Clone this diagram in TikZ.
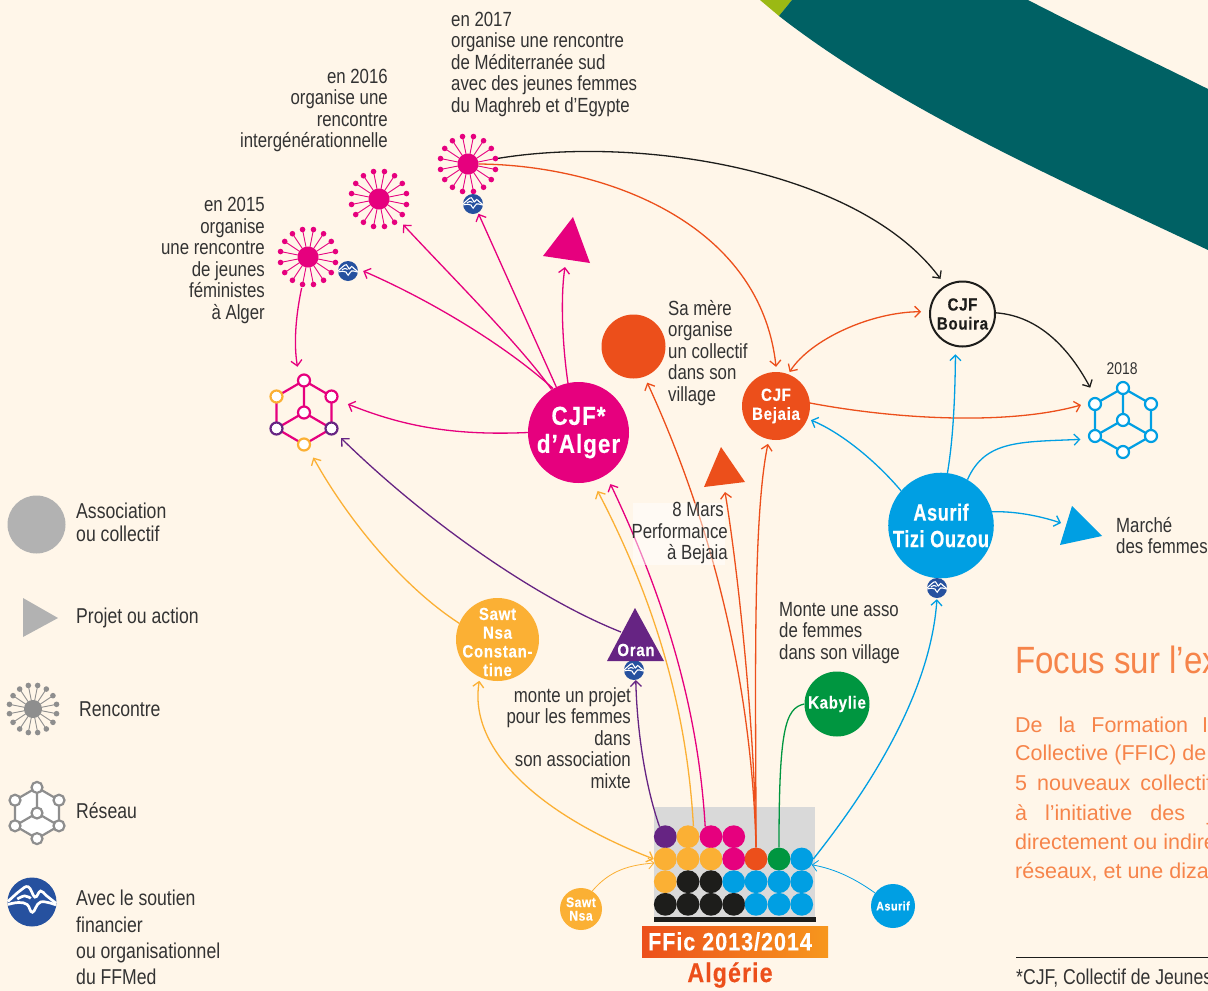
\documentclass[tikz,border=0pt]{standalone}
\usepackage{fontspec}
\usetikzlibrary{arrows.meta}
\setmainfont{Liberation Sans}
\newfontfamily\condfont[FakeStretch=0.82]{Liberation Sans}
\newfontfamily\condbold[FakeStretch=0.78,LetterSpace=2,FakeBold=0.3]{Liberation Sans Bold}
\newfontfamily\widebold[FakeStretch=0.86,LetterSpace=4,FakeBold=0.3]{Liberation Sans Bold}
\newfontfamily\focusfont[FakeStretch=0.87]{Liberation Sans}
\definecolor{paper}{HTML}{FFF6E9}
\definecolor{teal}{HTML}{006164}
\definecolor{lime}{HTML}{9BB914}
\definecolor{mypink}{HTML}{E6007E}
\definecolor{myorange}{HTML}{FBB034}
\definecolor{myred}{HTML}{EC4F1B}
\definecolor{mypurple}{HTML}{662483}
\definecolor{myblue}{HTML}{009FE3}
\definecolor{mygreen}{HTML}{009640}
\definecolor{myblack}{HTML}{1D1D1B}
\definecolor{badgeblue}{HTML}{26519F}
\definecolor{legendgrey}{HTML}{B2B2B2}
\definecolor{icongrey}{HTML}{8E8E8E}
\definecolor{focusorange}{HTML}{F6844A}
\definecolor{bannerend}{HTML}{F7971D}
\tikzset{
  >={Straight Barb[length=5.5pt,width=11pt]},
  conn/.style={line width=1.3pt},
  thinconn/.style={line width=0.8pt},
  lbl/.style={font=\condfont\fontsize{20.5}{21.5}\selectfont,text=black!80,inner sep=0pt},
  lblr/.style={lbl,align=right,anchor=north east},
  lbll/.style={lbl,align=left,anchor=north west},
  legtxt/.style={lbl,align=left,anchor=west,font=\condfont\fontsize{21.5}{23}\selectfont},
  orgnode/.style={circle,inner sep=0pt,text=white,align=center,font=\widebold\fontsize{17.5}{19}\selectfont},
  cell/.style={circle,inner sep=0pt,minimum size=22.8pt},
  netdot/.style={circle,draw,line width=2.2pt,fill=white,inner sep=0pt,minimum size=12pt},
  hidden/.style={circle,inner sep=0pt,minimum size=84pt},
  focus/.style={font=\fontsize{21.5}{22}\selectfont,text=focusorange,inner sep=0pt,anchor=base west},
}
% Rencontre icon: name, position, colour, disc radius, ray length
\newcommand{\Rencontre}[5]{
  \node[circle,fill=#3,inner sep=0pt,minimum size=#4*2pt] (#1) at (#2) {};
  \foreach \a in {11.25,33.75,...,348.75}{
    \draw[#3,line width=0.9pt] (#1.center) -- ++(\a:#5);
    \fill[#3] (#1.center) ++(\a:#5) circle (2.8pt);
  }
}
% FFMed badge: name, position, radius
\newcommand{\Badge}[3]{
  \node[circle,fill=badgeblue,inner sep=0pt,minimum size=#3*2pt] (#1) at (#2) {};
  \begin{scope}[shift={(#1.center)},x=#3pt,y=#3pt,line width=#3*0.11pt,white]
    \draw plot[smooth,tension=0.7] coordinates {(-0.98,0.02) (-0.5,0.45) (-0.15,0.62) (0.12,0.2) (0.35,0.45) (0.6,0.25) (0.98,-0.05)};
    \draw plot[smooth,tension=0.7] coordinates {(-0.98,-0.1) (-0.55,-0.02) (-0.2,-0.1) (0.02,-0.42) (0.35,0) (0.98,-0.12)};
    \draw plot[smooth,tension=0.7] coordinates {(-0.6,0.12) (-0.3,0.25) (-0.05,0.15)};
  \end{scope}
}
% Reseau icon: prefix, x, y, half width, half height step, line colour, fill
\newcommand{\Reseau}[7]{
  \coordinate (#1c) at (#2,#3);
  \coordinate (#1t) at (#2,#3-#5*2);
  \coordinate (#1b) at (#2,#3+#5*2);
  \coordinate (#1ur) at (#2+#4,#3-#5);
  \coordinate (#1lr) at (#2+#4,#3+#5);
  \coordinate (#1ul) at (#2-#4,#3-#5);
  \coordinate (#1ll) at (#2-#4,#3+#5);
  \draw[#6,line width=2.2pt,fill=#7] (#1t) -- (#1ur) -- (#1lr) -- (#1b) -- (#1ll) -- (#1ul) -- cycle;
  \draw[#6,line width=2.2pt] (#1c) -- (#1t) (#1c) -- (#1lr) (#1c) -- (#1ll);
}
\begin{document}
\begin{tikzpicture}[x=1pt,y=-1pt]
\useasboundingbox (0,0) rectangle (1208,991);
\fill[paper] (0,0) rectangle (1208,991);

% Band in the corner
\fill[lime] (760,0) -- (792,0) -- (779,16) -- cycle;
\fill[teal] (792,0) -- (1028,0) .. controls (1090,32) and (1150,60) .. (1208,89) -- (1208,250)
  .. controls (1060,180) and (900,110) .. (779,16) -- cycle;

% Legend
\node[circle,fill=legendgrey,minimum size=58pt,inner sep=0pt] (legassoc) at (36.5,524.5) {};
\node[legtxt] (legassoctxt) at (76,522.5) {Association\\ou collectif};
\fill[legendgrey] (23,598) -- (23,637) -- (58,618) -- cycle;
\node[legtxt] (legprojet) at (76,618) {Projet ou action};
\Rencontre{legrenc}{33,709}{icongrey}{9}{24}
\node[legtxt] (legrenctxt) at (79,709) {Rencontre};
\Reseau{leg}{37}{813}{22}{12.8}{icongrey}{white}
\foreach \p in {c,t,b,ur,lr,ul,ll}
  \node[netdot,draw=icongrey,minimum size=11pt] (leg\p n) at (leg\p) {};
\node[legtxt] (legreseau) at (76,811) {Réseau};
\Badge{legbadge}{32,902}{24.5}
\node[legtxt,anchor=north west,font=\condfont\fontsize{21.5}{26.4}\selectfont] (legbadgetxt) at (76,890) {Avec le soutien\\financier\\ou organisationnel\\du FFMed};

% Rencontres
\Rencontre{renca}{308,257}{mypink}{10.5}{28}
\Rencontre{rencb}{379,199}{mypink}{10.5}{28}
\Rencontre{rencc}{468,164}{mypink}{10.5}{28}
\Badge{badgea}{348,271}{10}
\Badge{badgec}{473,204}{10}

% Reseaux
\node[hidden] (netalger) at (304,412.5) {};
\Reseau{n}{304}{412.5}{27.5}{16}{mypink}{paper}
\foreach \p/\c in {c/mypink,t/mypink,ur/mypink,ul/myorange,b/myorange,ll/mypurple,lr/mypurple}
  \node[netdot,draw=\c] (n\p n) at (n\p) {};
\node[hidden] (netasurif) at (1123,420) {};
\Reseau{m}{1123}{420}{28}{16}{myblue}{paper}
\foreach \p in {c,t,b,ur,lr,ul,ll}
  \node[netdot,draw=myblue] (m\p n) at (m\p) {};
\node[lbl,font=\condfont\fontsize{17}{18}\selectfont] (an2018) at (1122,369) {2018};

% Associations
\node[orgnode,fill=mypink,minimum size=101pt,font=\widebold\fontsize{26}{28}\selectfont] (alger) at (578.5,432.5) {CJF*\\d’Alger};
\node[orgnode,fill=myorange,minimum size=83pt] (sawtc) at (497.5,639.5) {};
\node[orgnode,circle,inner sep=0pt,font=\widebold\fontsize{17.5}{18.7}\selectfont] (sawtctxt) at (497.5,642) {Sawt\\Nsa\\Constan-\\tine};
\node[orgnode,fill=myred,minimum size=64pt] (mere) at (633.5,346.5) {};
\node[orgnode,fill=myred,minimum size=68pt] (bejaia) at (776,406) {CJF\\Bejaia};
\node[orgnode,draw=myblack,line width=2pt,text=myblack,minimum size=65pt] (bouira) at (962.5,314) {CJF\\Bouira};
\node[orgnode,fill=myblue,minimum size=104pt,font=\condbold\fontsize{23.5}{26.5}\selectfont] (asurif) at (941,525.5) {Asurif\\Tizi Ouzou};
\node[orgnode,fill=mygreen,minimum size=65pt] (kabylie) at (837,704) {Kabylie};
\node[orgnode,fill=myblue,minimum size=44pt,font=\widebold\fontsize{12.5}{14}\selectfont] (asurifb) at (893,906) {Asurif};
\node[orgnode,fill=myorange,minimum size=42pt,font=\widebold\fontsize{14}{13.5}\selectfont] (sawtb) at (581,909) {Sawt\\Nsa};
\Badge{badgeo}{634,670}{10}
\Badge{badgeb}{937,588}{10}

% Projets
\fill[mypink] (573,217) -- (543,256) -- (590,263) -- cycle;
\fill[myred] (721,447) -- (704,487) -- (745,482) -- cycle;
\fill[myblue] (1072,506) -- (1060,545) -- (1102,536) -- cycle;
\fill[mypurple] (635,608) -- (607,661) -- (664,661) -- cycle;
\node[orgnode] (oran) at (636,650) {Oran};
\coordinate (tripink) at (565,267);
\coordinate (trired) at (725,492);
\coordinate (triblue) at (1061,523);
\coordinate (oranw) at (621,632);

% FFic 2013/2014 grid
\fill[black!15] (654,807) rectangle (815,917);
\fill[myblack] (654,917) rectangle (816,922);
\foreach \c/\x in {1/665.3,2/688,3/711,4/733.7,5/756,6/779,7/801.7}
  \foreach \r/\y in {1/836.7,2/859,3/881.7,4/904.3}
    \coordinate (p\r\c) at (\x,\y);
\foreach \n/\col in {11/mypurple,12/myorange,13/mypink,14/mypink,
    21/myorange,22/myorange,23/myorange,24/mypink,25/myred,26/mygreen,27/myblue,
    31/myorange,32/myblack,33/myblack,34/myblue,35/myblue,36/myblue,37/myblue,
    41/myblack,42/myblack,43/myblack,44/myblack,45/myblue,46/myblue,47/myblue}
  \node[cell,fill=\col] (g\n) at (p\n) {};
\node[inner sep=0pt,minimum width=186pt,minimum height=31pt,left color=myred,right color=bannerend,text=white,font=\widebold\fontsize{25}{28}\selectfont] (ffic) at (735,941.5) {\hspace*{-10pt}FFic 2013/2014};
\node[inner sep=0pt,text=myred,font=\widebold\fontsize{27}{28}\selectfont] (algerie) at (730,975) {Algérie};

% Connectors, pink
\draw[->,conn,mypink] (alger.120) .. controls (505,345) and (430,300) .. ([xshift=5pt]badgea.east);
\draw[->,conn,mypink,shorten >=24.5pt] (alger.122) .. controls (520,345) and (450,275) .. (rencb.-46) ;
\draw[->,conn,mypink,shorten >=1pt] (alger.116) -- (badgec.-60);
\draw[->,conn,mypink] (alger.102) .. controls (563,350) and (560,300) .. (tripink);
\draw[->,conn,mypink,shorten >=3pt] (alger.west) .. controls (450,436) and (400,425) .. (netalger.13);
\draw[->,conn,mypink,shorten <=21pt,shorten >=4pt] (renca.-101) .. controls (297,310) and (293,340) .. (netalger.98);
\draw[->,conn,mypink,shorten >=10pt] (g13.120) .. controls (700,740) and (680,630) .. (alger.-57);

% Connectors, orange
\draw[->,conn,myorange,shorten >=11pt] (g12.62) .. controls (688,730) and (665,620) .. (alger.-74);
\draw[->,conn,myorange,shorten >=4pt] (sawtc.157) .. controls (400,585) and (345,515) .. (netalger.-80);
\draw[<->,conn,myorange,shorten <=3.5pt] (sawtc.-115) .. controls (468,750) and (540,815) .. (g21.west);
\draw[->,thinconn,myorange] (sawtb.58) .. controls (610,870) and (630,865) .. (g21.200);

% Connectors, purple
\draw[->,conn,mypurple,shorten >=3pt] (oranw) .. controls (540,600) and (430,525) .. (netalger.-34);
\draw[->,conn,mypurple] (g11.120) .. controls (645,785) and (637,730) .. (badgeo.-80);

% Connectors, red
\draw[->,conn,myred,shorten >=5pt] (rencc.east) .. controls (600,165) and (760,220) .. (bejaia.89);
\draw[<->,conn,myred,shorten >=8pt,shorten <=2.5pt] (bejaia.69) .. controls (810,340) and (870,312) .. (bouira.176);
\draw[->,conn,myred,shorten >=3pt] (bejaia.5) .. controls (900,420) and (1010,425) .. (netasurif.158);
\draw[->,conn,myred,shorten >=4.5pt] (g25.north) .. controls (756,700) and (752,520) .. (bejaia.-102);
\draw[->,conn,myred] (g25.north) .. controls (755,730) and (738,570) .. (trired);
\draw[->,conn,myred,shorten >=6.5pt] (g25.north) .. controls (752,690) and (715,530) .. (mere.-70);

% Connectors, blue
\draw[->,conn,myblue,shorten >=3.5pt] (asurif.139) .. controls (875,460) and (840,432) .. (bejaia.-22);
\draw[->,conn,myblue,shorten >=7.5pt] (asurif.83) .. controls (953,440) and (955,400) .. (bouira.-102);
\draw[->,conn,myblue,shorten >=5pt] (asurif.60) .. controls (985,440) and (1020,442) .. (netasurif.-153);
\draw[->,conn,myblue] (asurif.15) .. controls (1015,511) and (1040,516) .. (triblue);
\draw[->,conn,myblue,shorten >=1pt] (g27.east) .. controls (860,800) and (930,700) .. (badgeb.south);
\draw[->,thinconn,myblue] (asurifb.144) .. controls (850,875) and (830,868) .. (g27.-30);

% Connectors, green and black
\draw[conn,mygreen] (g26.north) .. controls (779,730) and (785,708) .. (kabylie.west);
\draw[->,conn,myblack,shorten <=20pt,shorten >=8pt] (rencc.13) .. controls (640,135) and (860,170) .. (bouira.121);
\draw[->,conn,myblack,shorten >=4pt] (bouira.2) .. controls (1040,316) and (1070,350) .. (netasurif.137);

% Labels
\node[lbll] (txta) at (451,11.5) {en 2017\\organise une rencontre\\de Méditerranée sud\\avec des jeunes femmes\\du Maghreb et d’Egypte};
\node[lblr] (txtb) at (388,68.5) {en 2016\\organise une\\rencontre\\intergénérationnelle};
\node[lblr] (txtc) at (265,197) {en 2015\\organise\\une rencontre\\de jeunes\\féministes\\à Alger};
\node[lbll] (txtd) at (668,300) {Sa mère\\organise\\un collectif\\dans son\\village};
\fill[white,opacity=0.5] (633,503) rectangle (725,565);
\node[lblr] (txte) at (728,502) {8 Mars\hspace*{4pt}\\Performance\\à Bejaia};
\node[lblr] (txtf) at (631,687) {monte un projet\\pour les femmes\\dans\\son association\\mixte};
\node[lbll] (txtg) at (779,602) {Monte une asso\\de femmes\\dans son village};
\node[lbll] (txth) at (1116,517) {Marché\\des femmes};

% Focus text, cut by the page edge
\node[focus,font=\focusfont\fontsize{38}{40}\selectfont] (focus) at (1015,673) {Focus sur l’ex};
\node[focus] (foca) at (1015,732) {De\hspace{16pt}la\hspace{16pt}Formation\hspace{14pt}I};
\node[focus] (focb) at (1015,760) {Collective (FFIC) de};
\node[focus] (focc) at (1015,790) {5\hspace{10pt}nouveaux\hspace{10pt}collectif};
\node[focus] (focd) at (1015,820) {à\hspace{18pt}l’initiative\hspace{18pt}des\hspace{22pt}je};
\node[focus] (foce) at (1015,849) {directement ou indire};
\node[focus] (focf) at (1015,878) {réseaux, et une diza};
\draw[myblack,line width=0.8pt] (1016,957) coordinate (footl) -- (1208,957) coordinate (footr);
\node[lbl,anchor=base west,font=\condfont\fontsize{21.5}{22}\selectfont] (foot) at (1016,984) {*CJF, Collectif de Jeunes};
\end{tikzpicture}
\end{document}
